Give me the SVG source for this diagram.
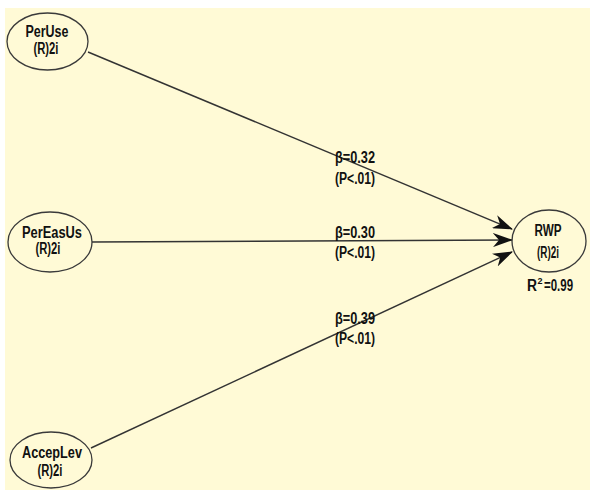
<svg xmlns="http://www.w3.org/2000/svg" width="590" height="493" viewBox="0 0 590 493">
<style>
.node{fill:none;stroke:#3a3a3a;stroke-width:1.3}
.t{font-family:"Liberation Sans",Arial,sans-serif;font-weight:bold;font-size:16px;fill:#111;text-anchor:middle}
.s{text-anchor:start}
.sup{font-size:9px}
.c{stroke:#333;stroke-width:1.4;fill:none}
</style>
<defs>
<marker id="ah" viewBox="0 0 20 14" refX="19" refY="7" markerWidth="20" markerHeight="14" markerUnits="userSpaceOnUse" orient="auto">
<path d="M0,0 L20,7 L0,14 L6,7 Z" fill="#111"/>
</marker>
</defs>
<rect width="590" height="493" fill="#ffffff"/>
<rect x="5" y="8" width="585" height="482" fill="#fffad6"/>
<g id="connectors">
<line class="c" x1="88" y1="52" x2="512" y2="229" marker-end="url(#ah)"/>
<line class="c" x1="92" y1="242" x2="512" y2="240" marker-end="url(#ah)"/>
<line class="c" x1="91" y1="448" x2="512" y2="252" marker-end="url(#ah)"/>
<text class="t" x="355" y="163" textLength="40" lengthAdjust="spacingAndGlyphs">β=0.32</text>
<text class="t" x="355" y="184" textLength="40" lengthAdjust="spacingAndGlyphs">(P&lt;.01)</text>
<text class="t" x="355" y="238" textLength="40" lengthAdjust="spacingAndGlyphs">β=0.30</text>
<text class="t" x="355" y="258" textLength="40" lengthAdjust="spacingAndGlyphs">(P&lt;.01)</text>
<text class="t" x="355" y="324" textLength="40" lengthAdjust="spacingAndGlyphs">β=0.39</text>
<text class="t" x="355" y="344" textLength="40" lengthAdjust="spacingAndGlyphs">(P&lt;.01)</text>
</g>
<g id="PerUse">
<ellipse class="node" cx="47.5" cy="41.5" rx="40.5" ry="28.5"/>
<text class="t" x="47" y="37" textLength="43" lengthAdjust="spacingAndGlyphs">PerUse</text>
<text class="t" x="46" y="54" textLength="25" lengthAdjust="spacingAndGlyphs">(R)2i</text>
</g>
<g id="PerEasUs">
<ellipse class="node" cx="50" cy="242" rx="42" ry="30"/>
<text class="t" x="52" y="238" textLength="60" lengthAdjust="spacingAndGlyphs">PerEasUs</text>
<text class="t" x="48" y="254" textLength="25" lengthAdjust="spacingAndGlyphs">(R)2i</text>
</g>
<g id="AccepLev">
<ellipse class="node" cx="51" cy="460" rx="41" ry="28"/>
<text class="t" x="52" y="458" textLength="60" lengthAdjust="spacingAndGlyphs">AccepLev</text>
<text class="t" x="50" y="476" textLength="25" lengthAdjust="spacingAndGlyphs">(R)2i</text>
</g>
<g id="RWP">
<ellipse class="node" cx="549" cy="241" rx="37" ry="31"/>
<text class="t" x="548" y="236" textLength="27" lengthAdjust="spacingAndGlyphs">RWP</text>
<text class="t" x="548" y="258" textLength="22" lengthAdjust="spacingAndGlyphs">(R)2i</text>
<text class="t s" x="527" y="291" textLength="10" lengthAdjust="spacingAndGlyphs">R</text>
<text class="t s sup" x="537.5" y="284">2</text>
<text class="t s" x="544" y="291" textLength="29" lengthAdjust="spacingAndGlyphs">=0.99</text>
</g>
</svg>
